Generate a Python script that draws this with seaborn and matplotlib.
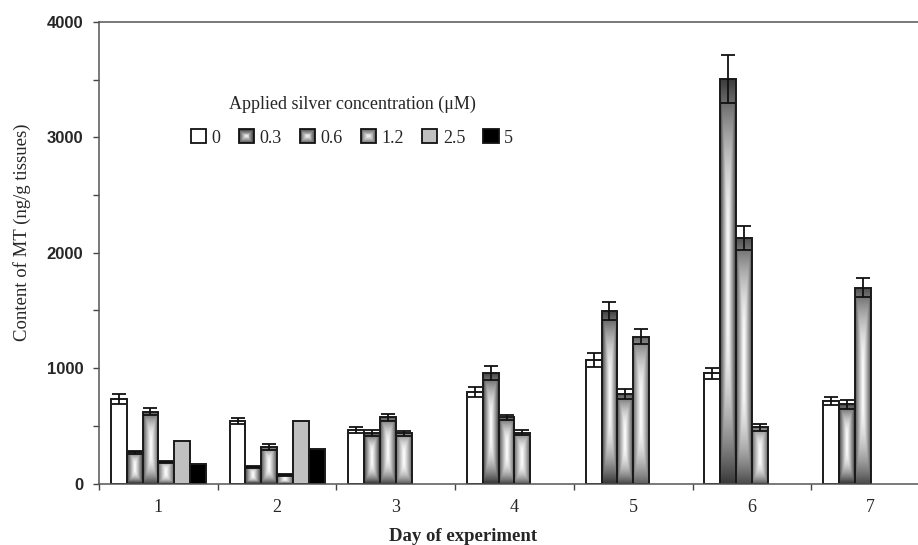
import numpy as np
import pandas as pd
import matplotlib
matplotlib.use("Agg")
import matplotlib.pyplot as plt
import seaborn as sns
from matplotlib.patches import Rectangle
from matplotlib.legend_handler import HandlerBase
from matplotlib.colors import to_rgb

days = ["1", "2", "3", "4", "5", "6", "7"]
conc = ["0", "0.3", "0.6", "1.2", "2.5", "5"]

# MT content (ng/g tissues) and error, None = not measured
mt_0 = [730, 545, 464, 796, 1070, 955, 715]
err_0 = [45, 25, 25, 43, 60, 50, 36]
mt_03 = [272, 146, 440, 955, 1495, 3505, 685]
err_03 = [12, 10, 25, 62, 82, 211, 40]
mt_06 = [622, 319, 573, 573, 776, 2130, 1697]
err_06 = [30, 25, 27, 25, 40, 104, 84]
mt_12 = [189, 71, 435, 440, 1272, 487, None]
err_12 = [10, 8, 20, 20, 66, 32, None]
mt_25 = [365, 545, None, None, None, None, None]
err_25 = [0, 0, None, None, None, None, None]
mt_5 = [166, 299, None, None, None, None, None]
err_5 = [0, 0, None, None, None, None, None]

values = {"0": mt_0, "0.3": mt_03, "0.6": mt_06, "1.2": mt_12, "2.5": mt_25, "5": mt_5}
errors = {"0": err_0, "0.3": err_03, "0.6": err_06, "1.2": err_12, "2.5": err_25, "5": err_5}

rows = []
for c in conc:
    for d, v, e in zip(days, values[c], errors[c]):
        if v is not None:
            rows.append({"day": d, "conc": c, "mt": v, "err": e})
df = pd.DataFrame(rows)

palette = {"0": "#ffffff", "0.3": "#3c3c3c", "0.6": "#505050", "1.2": "#666666",
           "2.5": "#c0c0c0", "5": "#000000"}
gradient = ["0.3", "0.6", "1.2"]

sns.set_style("ticks")
plt.rcParams["font.family"] = ["Liberation Serif", "DejaVu Serif"]


def center_gradient(dark, n=120):
    # light centre, dark sides; darkening toward top/bottom only near the ends
    u = np.linspace(-1, 1, n)
    U, V = np.meshgrid(u, u)
    g = np.maximum(np.abs(U), V ** 2) ** 1.15
    rgb = np.array(to_rgb(dark))
    return 1 - g[..., None] * (1 - rgb)


fig = plt.figure(figsize=(9.18, 5.45), dpi=100)
ax = fig.add_axes([99 / 918, 1 - 483.5 / 545, 831 / 918, 461.5 / 545])

sns.barplot(data=df, x="day", y="mt", hue="conc", order=days, hue_order=conc,
            palette=palette, saturation=1, errorbar=None, edgecolor="#1a1a1a",
            linewidth=1.4, legend=False, ax=ax)

for c, cont in zip(conc, ax.containers):
    sub = df[df["conc"] == c].set_index("day")
    for p in cont.patches:
        xc = p.get_x() + p.get_width() / 2
        d = days[int(round(xc))]
        h = p.get_height()
        if c in gradient:
            p.set_facecolor("none")
            im = ax.imshow(center_gradient(palette[c]), extent=[p.get_x(), p.get_x() + p.get_width(), 0, h],
                           aspect="auto", origin="lower", interpolation="bilinear", zorder=0.9)
            im.set_clip_path(p)
        e = sub.loc[d, "err"]
        if e > 0:
            ax.errorbar(xc, h, yerr=e, fmt="none", ecolor="#111111", elinewidth=1.3,
                        capsize=4.7, capthick=1.3, zorder=3)

ax.set_xlim(-0.5, 6.5)
ax.set_ylim(0, 4000)

ax.set_yticks([0, 1000, 2000, 3000, 4000])
ax.set_yticks(np.arange(500, 4000, 1000), minor=True)
ax.set_yticklabels(["0", "1000", "2000", "3000", "4000"], family="Liberation Sans",
                   fontweight="bold", fontsize=12)
ax.set_xticks(range(len(days)))
ax.set_xticks(np.arange(-0.5, 7, 1), minor=True)
ax.set_xticklabels(days, fontsize=13)
ax.tick_params(axis="y", which="both", direction="out", length=4.3, width=1, color="#444444", pad=7)
ax.tick_params(axis="x", which="major", length=0, pad=11)
ax.tick_params(axis="x", which="minor", direction="out", length=4.3, width=1, color="#444444")

for s in ["top", "right", "left", "bottom"]:
    ax.spines[s].set_visible(True)
    ax.spines[s].set_color("#555555")
    ax.spines[s].set_linewidth(1.1)

ax.set_ylabel("Content of MT (ng/g tissues)", fontsize=13.5)
ax.yaxis.set_label_coords(-0.082, 0.545)
ax.set_xlabel("Day of experiment", fontsize=13.5, fontweight="bold")
ax.xaxis.set_label_coords(0.438, -0.096)


class GradientHandler(HandlerBase):
    def __init__(self, dark, steps=8):
        super().__init__()
        self.dark = np.array(to_rgb(dark))
        self.steps = steps

    def create_artists(self, legend, orig_handle, xdescent, ydescent, width, height, fontsize, trans):
        arts = []
        x0, y0 = -xdescent, -ydescent
        for i in range(self.steps):
            f = i / self.steps
            inset = f * min(width, height) / 2
            col = 1 - (1 - f) * (1 - self.dark)
            arts.append(Rectangle((x0 + inset, y0 + inset), width - 2 * inset, height - 2 * inset,
                                  facecolor=col, edgecolor="none", transform=trans))
        arts.append(Rectangle((x0, y0), width, height, facecolor="none", edgecolor="#111111",
                              linewidth=1.3, transform=trans))
        return arts


handles = []
hmap = {}
for c in conc:
    h = Rectangle((0, 0), 1, 1, facecolor=palette[c], edgecolor="#111111", linewidth=1.3)
    handles.append(h)
    if c in gradient:
        hmap[h] = GradientHandler(palette[c])

ax.legend(handles, conc, title="Applied silver concentration (\u03bcM)", ncol=6, frameon=False,
          loc="center", bbox_to_anchor=(352 / 918, 1 - 121 / 545), bbox_transform=fig.transFigure,
          fontsize=13, title_fontsize=13, handlelength=0.85, handleheight=0.85,
          handletextpad=0.3, columnspacing=1.0, labelspacing=0.9, handler_map=hmap)

fig.savefig("out.png", dpi=100)
